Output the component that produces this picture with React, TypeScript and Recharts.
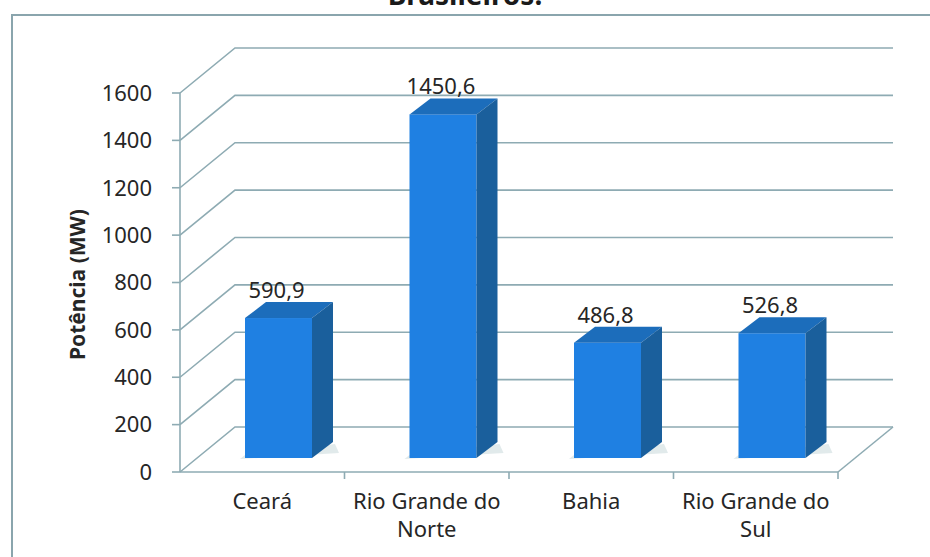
// Potência eólica instalada por estado - barras 3D
import { BarChart, Bar, XAxis, YAxis, CartesianGrid, LabelList } from 'recharts';

const categories = ['Ceará', 'Rio Grande do\nNorte', 'Bahia', 'Rio Grande do\nSul'];
const potencia = [590.9, 1450.6, 486.8, 526.8];
const yTicks = [0, 200, 400, 600, 800, 1000, 1200, 1400, 1600];

const data = categories.map((estado, i) => ({ estado, potencia: potencia[i] }));

const FONT = '"Noto Sans", "DejaVu Sans", sans-serif';
const TEXT = '#262626';
const GRID = '#8eabb3';
// profundidade das paredes
const DEPTH_X = 55;
const DEPTH_Y = 45;
// a barra fica no meio da profundidade
const BAR_OX = 16;
const BAR_OY = 14;
const SIDE_X = 21;
const SIDE_Y = 16;

function WallLine(props: any) {
  const { x1, y1, x2, y, height } = props;
  const isFloor = Math.abs(y1 - (y + height)) < 1;
  return (
    <g>
      <path
        d={`M${x1},${y1}L${x1 + DEPTH_X},${y1 - DEPTH_Y}L${x2 + DEPTH_X},${y1 - DEPTH_Y}`}
        stroke={GRID}
        strokeWidth={1.6}
        fill="none"
      />
      {isFloor && (
        <line x1={x2} y1={y1} x2={x2 + DEPTH_X} y2={y1 - DEPTH_Y} stroke={GRID} strokeWidth={1.6} />
      )}
    </g>
  );
}

function Bar3D(props: any) {
  const { x, y, width, height } = props;
  if (!height) return null;
  const fx = x + BAR_OX;
  const fy = y - BAR_OY;
  const w = width;
  const h = height;
  return (
    <g>
      {/* sombra */}
      <polygon
        points={`${fx - 5},${fy + h + 1} ${fx + w + SIDE_X + 6},${fy + h - 5} ${fx + w + SIDE_X + 2},${fy + h - SIDE_Y + 2} ${fx},${fy + h - 3}`}
        fill="#a9c2c6"
        opacity={0.35}
      />
      <rect x={fx} y={fy} width={w} height={h} fill="#1f80e2" />
      <polygon
        points={`${fx},${fy} ${fx + SIDE_X},${fy - SIDE_Y} ${fx + w + SIDE_X},${fy - SIDE_Y} ${fx + w},${fy}`}
        fill="#1c6dbb"
      />
      <polygon
        points={`${fx + w},${fy} ${fx + w + SIDE_X},${fy - SIDE_Y} ${fx + w + SIDE_X},${fy + h - SIDE_Y} ${fx + w},${fy + h}`}
        fill="#1a5f9c"
      />
    </g>
  );
}

function ValueLabel(props: any) {
  const { x, y, width, value } = props;
  return (
    <text
      x={x + BAR_OX + width / 2 - 2}
      y={y - BAR_OY - 20}
      textAnchor="middle"
      fontFamily={FONT}
      fontSize={22}
      fill={TEXT}
    >
      {Number(value).toFixed(1).replace('.', ',')}
    </text>
  );
}

function CategoryTick(props: any) {
  const { x, y, payload, width, visibleTicksCount } = props;
  const lines = String(payload.value).split('\n');
  const band = width && visibleTicksCount ? width / visibleTicksCount : 0;
  return (
    <g>
      {band > 0 && (
        <line x1={x + band / 2} y1={y} x2={x + band / 2} y2={y + 7} stroke={GRID} strokeWidth={1.6} />
      )}
      {lines.map((l, i) => (
        <text
          key={i}
          x={x}
          y={y + 37 + i * 28}
          textAnchor="middle"
          fontFamily={FONT}
          fontSize={22}
          fill={TEXT}
        >
          {l}
        </text>
      ))}
    </g>
  );
}

function AxisTitle(props: any) {
  const { viewBox } = props;
  const cx = viewBox.x - 23;
  const cy = viewBox.y + viewBox.height / 2 + 2;
  return (
    <text
      x={cx}
      y={cy}
      transform={`rotate(-90, ${cx}, ${cy})`}
      textAnchor="middle"
      dominantBaseline="central"
      fontFamily={FONT}
      fontWeight="bold"
      fontSize={21}
      fill={TEXT}
    >
      Potência (MW)
    </text>
  );
}

export default function App() {
  return (
    <div
      style={{
        position: 'absolute',
        left: 0,
        top: 0,
        width: 930,
        height: 557,
        overflow: 'hidden',
        background: '#ffffff',
      }}
    >
      {/* título cortado no topo */}
      <div
        style={{
          position: 'absolute',
          left: 0,
          top: -20,
          width: 930,
          textAlign: 'center',
          fontFamily: FONT,
          fontWeight: 'bold',
          fontSize: 28,
          lineHeight: '28px',
          color: '#1a1a1a',
        }}
      >
        Brasileiros.
      </div>
      {/* moldura */}
      <div style={{ position: 'absolute', left: 11, top: 14, width: 919, height: 2, background: '#8aa5ad' }} />
      <div style={{ position: 'absolute', left: 11, top: 14, width: 2, height: 543, background: '#8aa5ad' }} />

      <div style={{ position: 'absolute', left: 0, top: 0 }}>
        <BarChart
          width={930}
          height={557}
          data={data}
          margin={{ top: 93, right: 92, bottom: 55, left: 100 }}
          barSize={67}
        >
          <CartesianGrid horizontal={(p: any) => <WallLine {...p} />} vertical={false} stroke={GRID} />
          <XAxis
            dataKey="estado"
            height={30}
            axisLine={{ stroke: GRID, strokeWidth: 1.6 }}
            tickLine={false}
            tickSize={0}
            tickMargin={0}
            interval={0}
            tick={(p: any) => <CategoryTick {...p} />}
          />
          <YAxis
            width={80}
            domain={[0, 1600]}
            ticks={yTicks}
            interval={0}
            axisLine={{ stroke: GRID, strokeWidth: 1.6 }}
            tickLine={{ stroke: GRID, strokeWidth: 1.6 }}
            tickSize={8}
            tickMargin={20}
            tick={{ fontFamily: FONT, fontSize: 22, fill: TEXT }}
            label={(p: any) => <AxisTitle {...p} />}
          />
          <Bar dataKey="potencia" shape={(p: any) => <Bar3D {...p} />} isAnimationActive={false}>
            <LabelList dataKey="potencia" content={(p: any) => <ValueLabel {...p} />} />
          </Bar>
        </BarChart>
      </div>
    </div>
  );
}
